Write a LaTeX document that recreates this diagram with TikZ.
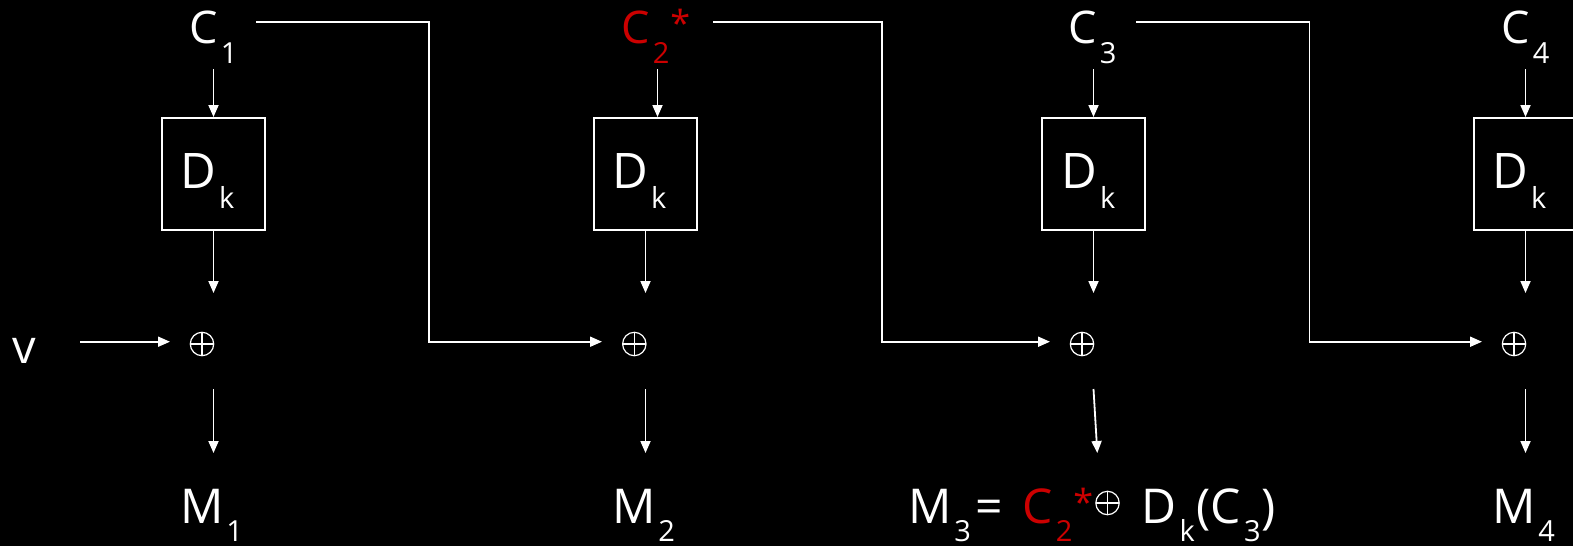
\documentclass[tikz,border=0pt]{standalone}
\usepackage{fontspec}
\setmainfont{Open Sans}
\usetikzlibrary{arrows.meta}
\definecolor{redc}{HTML}{CC0000}
\newcommand{\lowsub}[2][20pt]{\kern3pt\raisebox{-#1}{\fontsize{29}{30}\selectfont #2}}
\newcommand{\starmark}[1][7pt]{\kern1pt\raisebox{#1}{\fontsize{36}{38}\selectfont *}}
\tikzset{
  lbl/.style={text=white, inner sep=0pt, outer sep=0pt, anchor=base west, font=\fontsize{45}{50}\selectfont},
  big/.style={text=white, inner sep=0pt, outer sep=0pt, anchor=base west, font=\fontsize{48}{52}\selectfont},
  boxk/.style={draw=white, line width=1.8pt, minimum width=103pt, minimum height=112pt, inner sep=0pt},
  arr/.style={draw=white, line width=1.8pt, -{Triangle[length=12pt,width=10pt]}},
  xorc/.style={circle, draw=white, line width=1.2pt, minimum size=23.4pt, inner sep=0pt,
    path picture={\draw[white, line width=1.2pt]
      (path picture bounding box.north) -- (path picture bounding box.south)
      (path picture bounding box.west) -- (path picture bounding box.east);}}
}
\begin{document}
\begin{tikzpicture}[x=1pt,y=-1pt]
\fill[black] (0,0) rectangle (1573,546);
\useasboundingbox (0,0) rectangle (1573,546);

% top labels
\node[lbl] (c1) at (189.5,43) {C\lowsub{1}};
\node[lbl, text=redc] (c2) at (621.5,43) {C\lowsub{2}\starmark};
\node[lbl] (c3) at (1068.5,43) {C\lowsub{3}};
\node[lbl] (c4) at (1501.5,43) {C\lowsub{4}};

% boxes
\node[boxk] (b1) at (213.5,173.9) {};
\node[boxk] (b2) at (645.5,173.9) {};
\node[boxk] (b3) at (1093.5,173.9) {};
\node[boxk] (b4) at (1525.5,173.9) {};
\node[big, font=\fontsize{49}{52}\selectfont] (d1) at (180.5,188) {D\lowsub{k}};
\node[big, font=\fontsize{49}{52}\selectfont] (d2) at (612.5,188) {D\lowsub{k}};
\node[big, font=\fontsize{49}{52}\selectfont] (d3) at (1061.5,188) {D\lowsub{k}};
\node[big, font=\fontsize{49}{52}\selectfont] (d4) at (1492.5,188) {D\lowsub{k}};

% xor nodes
\node[xorc] (x1) at (202,344) {};
\node[xorc] (x2) at (634.3,344) {};
\node[xorc] (x3) at (1082,344) {};
\node[xorc] (x4) at (1514,344) {};

% v
\node[big, font=\fontsize{47}{52}\selectfont] (v) at (12.5,363) {v};

% outputs
\node[big] (m1) at (180,523) {M\lowsub[18pt]{1}};
\node[big] (m2) at (612,523) {M\lowsub[18pt]{2}};
\node[big] (m3) at (908,523) {M\lowsub[18pt]{3}};
\node[big] (m3eq) at (975,523) {=};
\node[big, text=redc] (m3c) at (1022.5,523) {C\lowsub[18pt]{2}\starmark[8pt]};
\node[xorc] (m3x) at (1107.5,503) {};
\node[big] (m3d) at (1141.5,523) {D\lowsub[18pt]{k}\kern2pt(C\lowsub[18pt]{3}\kern1pt)};
\node[big] (m4) at (1492,523) {M\lowsub[18pt]{4}};

% coordinates for free ends
\coordinate (t1) at (213.5,69);   \coordinate (t2) at (657.5,69);
\coordinate (t3) at (1093.5,69);  \coordinate (t4) at (1525.5,69);
\coordinate (u1) at (213.5,293);  \coordinate (u2) at (645.5,293);
\coordinate (u3) at (1093.5,293); \coordinate (u4) at (1525.5,293);
\coordinate (w1) at (213.5,389);  \coordinate (w2) at (645.5,389);
\coordinate (w3) at (1093.5,389); \coordinate (w4) at (1525.5,389);
\coordinate (z1) at (213.5,453);  \coordinate (z2) at (645.5,453);
\coordinate (z3) at (1097.3,453); \coordinate (z4) at (1525.5,453);
\coordinate (vs) at (80,341.7);   \coordinate (ve) at (170,341.7);
\coordinate (f1s) at (256,22);    \coordinate (f1e) at (602,341.7);
\coordinate (f2s) at (713,22);    \coordinate (f2e) at (1050,341.7);
\coordinate (f3s) at (1136,22);   \coordinate (f3e) at (1482,341.7);

% C -> D boxes
\draw[arr] (t1) -- (b1.north);
\draw[arr] (t2) -- (t2 |- b2.north);
\draw[arr] (t3) -- (b3.north);
\draw[arr] (t4) -- (b4.north);
% boxes -> xor
\draw[arr] (b1.south) -- (u1);
\draw[arr] (b2.south) -- (u2);
\draw[arr] (b3.south) -- (u3);
\draw[arr] (b4.south) -- (u4);
% xor -> M
\draw[arr] (w1) -- (z1);
\draw[arr] (w2) -- (z2);
\draw[arr] (w3) -- (z3);
\draw[arr] (w4) -- (z4);
% v -> xor
\draw[arr] (vs) -- (ve);
% feedback
\draw[arr] (f1s) -- (429,22) -- (429,341.7) -- (f1e);
\draw[arr] (f2s) -- (882,22) -- (882,341.7) -- (f2e);
\draw[arr] (f3s) -- (1309.5,22) -- (1309.5,341.7) -- (f3e);
\end{tikzpicture}
\end{document}
